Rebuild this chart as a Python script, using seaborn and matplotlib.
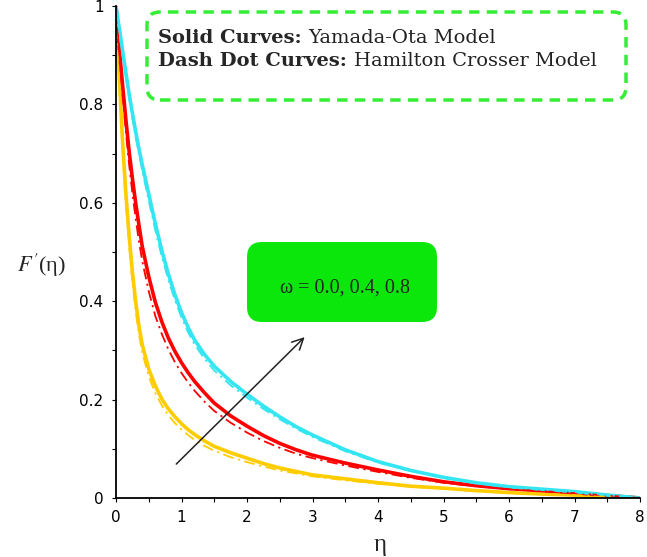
import numpy as np
import pandas as pd
import matplotlib
matplotlib.use('Agg')
import matplotlib.pyplot as plt
import seaborn as sns
from matplotlib.patches import FancyBboxPatch
from matplotlib.ticker import MultipleLocator, FixedLocator

# Values
eta = [0, 0.05, 0.1, 0.15, 0.2, 0.25, 0.3, 0.35, 0.4, 0.5, 0.6, 0.7, 0.8, 0.9, 1.0, 1.1, 1.2, 1.35,
       1.5, 1.75, 2.0, 2.25, 2.5, 2.75, 3.0, 3.5, 4.0, 4.5, 5.0, 5.5, 6.0, 6.5, 7.0, 7.5, 8.0]

# Yamada-Ota model (solid), omega = 0.0, 0.4, 0.8
yo_w00 = [1.0, 0.855, 0.725, 0.62, 0.535, 0.46, 0.40, 0.35, 0.312, 0.262, 0.228, 0.201, 0.181, 0.165,
          0.151, 0.139, 0.129, 0.116, 0.105, 0.092, 0.081, 0.07, 0.061, 0.054, 0.047, 0.039, 0.031,
          0.024, 0.02, 0.015, 0.011, 0.008, 0.006, 0.003, 0.0]
yo_w04 = [1.0, 0.915, 0.84, 0.77, 0.705, 0.65, 0.60, 0.555, 0.512, 0.45, 0.398, 0.358, 0.325, 0.298,
          0.275, 0.255, 0.237, 0.214, 0.193, 0.167, 0.146, 0.127, 0.111, 0.098, 0.087, 0.071, 0.057,
          0.044, 0.033, 0.025, 0.019, 0.015, 0.011, 0.005, 0.0]
yo_w08 = [1.0, 0.955, 0.91, 0.865, 0.822, 0.782, 0.745, 0.71, 0.678, 0.618, 0.558, 0.503, 0.455, 0.413,
          0.377, 0.347, 0.321, 0.292, 0.268, 0.237, 0.211, 0.187, 0.165, 0.145, 0.128, 0.098, 0.074,
          0.056, 0.042, 0.031, 0.023, 0.018, 0.013, 0.006, 0.0]

# Hamilton Crosser model (dash dot)
hc_w00 = [1.0, 0.84, 0.705, 0.598, 0.512, 0.44, 0.38, 0.333, 0.296, 0.247, 0.213, 0.188, 0.168, 0.152,
          0.139, 0.128, 0.118, 0.106, 0.096, 0.083, 0.073, 0.064, 0.056, 0.05, 0.044, 0.036, 0.029,
          0.023, 0.019, 0.014, 0.011, 0.008, 0.006, 0.003, 0.0]
hc_w04 = [1.0, 0.905, 0.82, 0.745, 0.678, 0.62, 0.568, 0.522, 0.482, 0.42, 0.37, 0.333, 0.302, 0.276,
          0.254, 0.235, 0.218, 0.196, 0.177, 0.153, 0.133, 0.116, 0.102, 0.09, 0.081, 0.066, 0.053,
          0.041, 0.031, 0.024, 0.018, 0.014, 0.01, 0.005, 0.0]
hc_w08 = [1.0, 0.95, 0.902, 0.856, 0.812, 0.772, 0.734, 0.699, 0.666, 0.604, 0.544, 0.49, 0.443, 0.402,
          0.367, 0.337, 0.312, 0.283, 0.259, 0.229, 0.204, 0.181, 0.16, 0.141, 0.124, 0.095, 0.072,
          0.055, 0.041, 0.03, 0.022, 0.017, 0.012, 0.006, 0.0]

colors = ['#ffcc00', '#ff0000', '#33e6f2']
y_ticks = [0, 0.2, 0.4, 0.6, 0.8, 1]
y_tick_labels = ['0', '0.2', '0.4', '0.6', '0.8', '1']

sns.set_style('ticks')
plt.rcParams['mathtext.fontset'] = 'stix'

fig = plt.figure(figsize=(6.47, 5.57), dpi=100)
ax = fig.add_axes([116/647, 59/557, 524/647, 492/557])

for yvals, c in zip([yo_w00, yo_w04, yo_w08], colors):
    sns.lineplot(x=eta, y=yvals, color=c, lw=2.6, ax=ax)
for yvals, c in zip([hc_w00, hc_w04, hc_w08], colors):
    sns.lineplot(x=eta, y=yvals, color=c, lw=1.3, linestyle=(0, (6, 2.5, 1.2, 2.5)), ax=ax)

ax.set_xlim(0, 8)
ax.set_ylim(0, 1)
ax.xaxis.set_major_locator(MultipleLocator(1))
ax.xaxis.set_minor_locator(MultipleLocator(0.5))
ax.yaxis.set_major_locator(FixedLocator(y_ticks))
ax.set_yticklabels(y_tick_labels)
ax.yaxis.set_minor_locator(MultipleLocator(0.1))
ax.tick_params(which='both', direction='out', length=3, width=0.8, labelsize=11, colors='black', pad=6)
sns.despine(ax=ax)
for s in ['left', 'bottom']:
    ax.spines[s].set_linewidth(1.3)
    ax.spines[s].set_color('black')
ax.set_xlabel('')
ax.set_ylabel('')

# axis labels
fig.text(42/647, 1 - 265/557, r'$F^{\prime}$(η)', fontsize=16, family='Liberation Serif',
         ha='center', va='center')
fig.text(380/647, 1 - 545/557, 'η', fontsize=18, family='Liberation Serif', ha='center', va='center')

# arrow
ax.annotate('', xy=(2.91, 0.331), xytext=(0.89, 0.065),
            arrowprops=dict(arrowstyle='->', color='#222222', lw=1.1, mutation_scale=20))

# legend box (dashed green)
leg = FancyBboxPatch((1.47, 4.57), 4.79, 0.88, boxstyle='round,pad=0,rounding_size=0.13',
                     transform=fig.dpi_scale_trans, facecolor='none', edgecolor='#33ee33',
                     lw=2.5, linestyle=(0, (3, 2.1)))
fig.add_artist(leg)

# omega label box
gbox = FancyBboxPatch((2.47, 2.35), 1.90, 0.80, boxstyle='round,pad=0,rounding_size=0.15',
                      transform=fig.dpi_scale_trans, facecolor='#0be60b', edgecolor='none')
fig.add_artist(gbox)
fig.text(345/647, 1 - 288/557, 'ω = 0.0, 0.4, 0.8', fontsize=14.5, family='Liberation Serif',
         ha='center', va='center')

renderer = fig.canvas.get_renderer()
lines = [('Solid Curves: ', 'Yamada-Ota Model', 38),
         ('Dash Dot Curves: ', 'Hamilton Crosser Model', 61)]
for bold, rest, ypx in lines:
    t = fig.text(158/647, 1 - ypx/557, bold, fontsize=14, family='DejaVu Serif',
                 weight='bold', ha='left', va='center')
    bb = t.get_window_extent(renderer)
    fig.text(bb.x1/647, 1 - ypx/557, rest, fontsize=14, family='DejaVu Serif',
             ha='left', va='center', color='#222222')

fig.savefig('out.png', dpi=100)
